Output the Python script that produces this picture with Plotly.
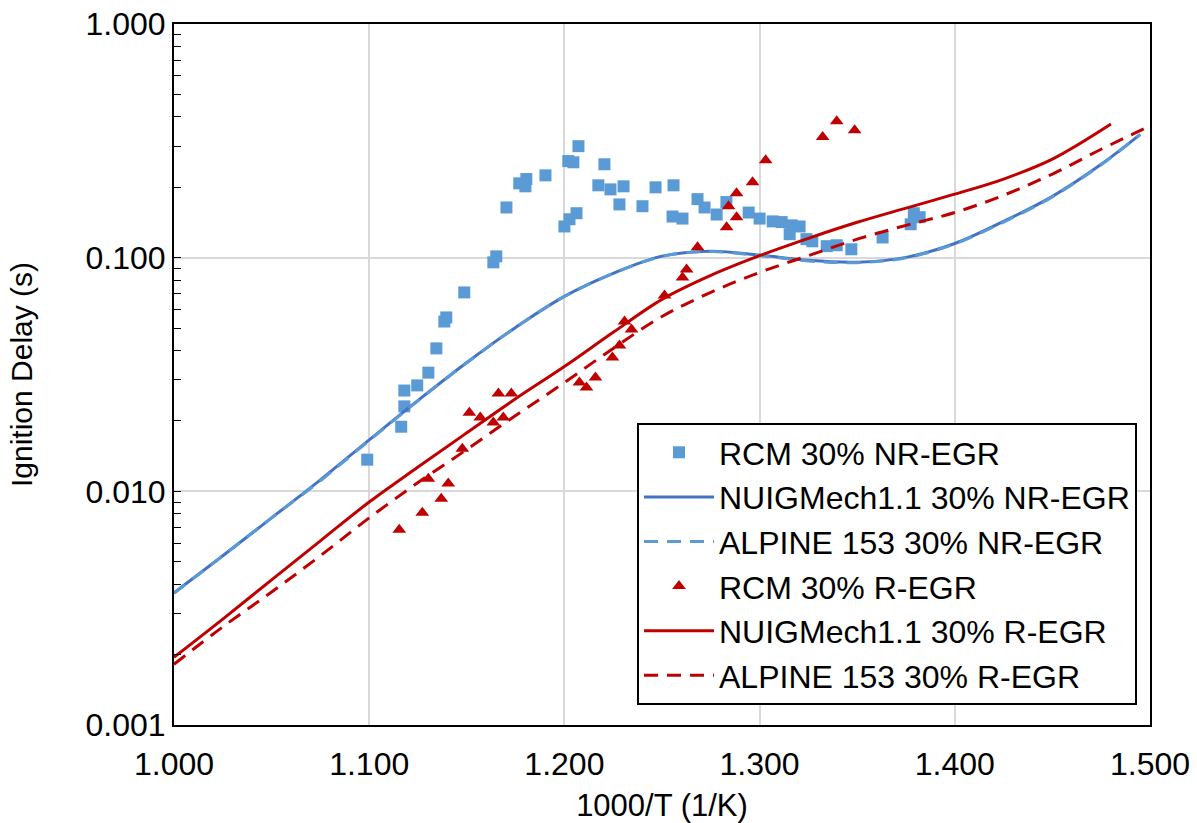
import plotly.graph_objects as go

# ---- Experimental RCM data ----
nr_x = [1.099, 1.1164, 1.118, 1.118, 1.1246, 1.1303, 1.1344, 1.1385, 1.1395, 1.1487,
        1.1636, 1.1651, 1.1703, 1.1769, 1.1805, 1.180, 1.1903, 1.200, 1.2026, 1.2062,
        1.202, 1.2046, 1.2072, 1.2205, 1.2174, 1.2236, 1.2303, 1.2282, 1.240, 1.2467,
        1.2559, 1.2554, 1.2605, 1.2682, 1.2718, 1.278, 1.283, 1.2944, 1.300, 1.3067,
        1.3113, 1.3164, 1.3205, 1.3154, 1.324, 1.327, 1.3344, 1.3395, 1.347, 1.363,
        1.3774, 1.379, 1.382]
nr_y = [0.01366, 0.0189, 0.0231, 0.027, 0.0284, 0.0322, 0.0409, 0.0533, 0.0555, 0.0710,
        0.0955, 0.1013, 0.164, 0.208, 0.217, 0.202, 0.225, 0.136, 0.146, 0.155,
        0.259, 0.256, 0.300, 0.251, 0.204, 0.196, 0.202, 0.169, 0.166, 0.200,
        0.204, 0.150, 0.147, 0.178, 0.164, 0.153, 0.173, 0.156, 0.147, 0.143,
        0.142, 0.1375, 0.136, 0.126, 0.120, 0.1175, 0.112, 0.113, 0.1086, 0.122,
        0.139, 0.155, 0.149]

r_x = [1.1154, 1.1272, 1.1303, 1.1369, 1.1405, 1.1477, 1.1513, 1.1569, 1.1636, 1.1687,
       1.1662, 1.1728, 1.2077, 1.2113, 1.2159, 1.2246, 1.2282, 1.2308, 1.2344, 1.2513,
       1.2605, 1.2626, 1.2682, 1.2831, 1.2841, 1.2882, 1.2882, 1.2964, 1.3031, 1.3323,
       1.3395, 1.3487]
r_y = [0.00685, 0.0081, 0.01133, 0.0093, 0.0108, 0.01523, 0.0217, 0.0207, 0.0197, 0.0207,
       0.0262, 0.0262, 0.0292, 0.0278, 0.0307, 0.0374, 0.0421, 0.0533, 0.0493, 0.0689,
       0.0823, 0.0891, 0.1107, 0.1349, 0.166, 0.149, 0.1887, 0.2103, 0.261, 0.328,
       0.384, 0.351]

# ---- Model curves ----
nuig_nr_x = [1.000, 1.025, 1.050, 1.075, 1.100, 1.125, 1.150, 1.175, 1.200, 1.225,
             1.250, 1.275, 1.300, 1.325, 1.350, 1.375, 1.400, 1.425, 1.450, 1.475, 1.495]
nuig_nr_y = [0.00368, 0.0053, 0.0077, 0.0112, 0.0166, 0.0245, 0.0356, 0.0503, 0.0683, 0.0857,
             0.1015, 0.1066, 0.1026, 0.0974, 0.0957, 0.1003, 0.115, 0.143, 0.183, 0.251, 0.337]

alp_nr_x = [1.000, 1.025, 1.050, 1.075, 1.100, 1.125, 1.150, 1.175, 1.200, 1.225,
            1.250, 1.275, 1.300, 1.325, 1.350, 1.375, 1.400, 1.425, 1.450, 1.475, 1.495]
alp_nr_y = [0.00366, 0.0053, 0.0077, 0.0111, 0.0165, 0.0244, 0.0355, 0.0502, 0.0682, 0.0856,
            0.1012, 0.1062, 0.1020, 0.0968, 0.0952, 0.0998, 0.1145, 0.142, 0.182, 0.250, 0.336]

nuig_r_x = [1.000, 1.025, 1.050, 1.075, 1.100, 1.125, 1.150, 1.175, 1.200, 1.225,
            1.250, 1.275, 1.300, 1.325, 1.350, 1.375, 1.400, 1.425, 1.450, 1.480]
nuig_r_y = [0.00195, 0.00284, 0.00418, 0.00614, 0.0090, 0.0127, 0.0178, 0.0249, 0.0342, 0.0479,
            0.0663, 0.0840, 0.102, 0.121, 0.1417, 0.163, 0.187, 0.217, 0.264, 0.373]

alp_r_x = [1.000, 1.025, 1.050, 1.075, 1.100, 1.125, 1.150, 1.175, 1.200, 1.225,
           1.250, 1.275, 1.300, 1.325, 1.350, 1.375, 1.400, 1.425, 1.450, 1.475, 1.500]
alp_r_y = [0.00182, 0.00263, 0.00371, 0.0053, 0.0077, 0.0109, 0.0151, 0.0211, 0.0292, 0.0409,
           0.056, 0.071, 0.0865, 0.102, 0.120, 0.1375, 0.156, 0.185, 0.228, 0.291, 0.366]

x_ticks = [1.0, 1.1, 1.2, 1.3, 1.4, 1.5]
y_ticks = [0.001, 0.01, 0.1, 1.0]
y_tick_text = ["0.001", "0.010", "0.100", "1.000"]

BLUE_M = "#5B9BD5"
BLUE_L = "#4472C4"
RED = "#C00000"
FONT = "Liberation Sans, Arial, sans-serif"
DASH = "14px,9px"

fig = go.Figure()
fig.add_trace(go.Scatter(x=nr_x, y=nr_y, mode="markers", name="RCM 30% NR-EGR",
                         marker=dict(symbol="square", size=12, color=BLUE_M)))
fig.add_trace(go.Scatter(x=nuig_nr_x, y=nuig_nr_y, mode="lines", name="NUIGMech1.1 30% NR-EGR",
                         line=dict(color=BLUE_L, width=3, shape="spline")))
fig.add_trace(go.Scatter(x=alp_nr_x, y=alp_nr_y, mode="lines", name="ALPINE 153 30% NR-EGR",
                         line=dict(color=BLUE_M, width=3, dash=DASH, shape="spline")))
fig.add_trace(go.Scatter(x=r_x, y=r_y, mode="markers", name="RCM 30% R-EGR",
                         marker=dict(symbol="triangle-up", size=12, color=RED)))
fig.add_trace(go.Scatter(x=nuig_r_x, y=nuig_r_y, mode="lines", name="NUIGMech1.1 30% R-EGR",
                         line=dict(color=RED, width=3, shape="spline")))
fig.add_trace(go.Scatter(x=alp_r_x, y=alp_r_y, mode="lines", name="ALPINE 153 30% R-EGR",
                         line=dict(color=RED, width=3, dash=DASH, shape="spline")))

minor_vals = [m * 10 ** e for e in (-3, -2, -1) for m in range(2, 10)]

fig.update_layout(
    width=1197, height=823,
    margin=dict(l=174, r=47, t=24, b=98),
    paper_bgcolor="white", plot_bgcolor="white",
    font=dict(family=FONT, size=32, color="#000000"),
    showlegend=True,
    legend=dict(x=0.4744, y=0.4308, xanchor="left", yanchor="top",
                bgcolor="white", bordercolor="black", borderwidth=2,
                font=dict(family=FONT, size=32, color="#000000"),
                itemwidth=70, tracegroupgap=0),
    xaxis=dict(range=[1.0, 1.5], tickvals=x_ticks, tickformat=".3f",
               showgrid=True, gridcolor="#D9D9D9", gridwidth=2,
               showline=True, linecolor="black", linewidth=2, mirror=True,
               ticks="", zeroline=False, ticklabelstandoff=10, automargin=False,
               tickfont=dict(family=FONT, size=32),
               title=dict(text="1000/T (1/K)", font=dict(family=FONT, size=31), standoff=14)),
    yaxis=dict(type="log", range=[-3, 0], tickvals=y_ticks, ticktext=y_tick_text,
               showgrid=True, gridcolor="#D9D9D9", gridwidth=2,
               showline=True, linecolor="black", linewidth=2, mirror=True,
               ticks="inside", ticklen=7, tickcolor="black", zeroline=False, automargin=False,
               minor=dict(tickvals=minor_vals, ticks="inside", ticklen=7,
                          tickcolor="black", showgrid=False),
               tickfont=dict(family=FONT, size=32),
               title=dict(text="Ignition Delay (s)", font=dict(family=FONT, size=30), standoff=44)),
)

fig.write_html("out.html")
